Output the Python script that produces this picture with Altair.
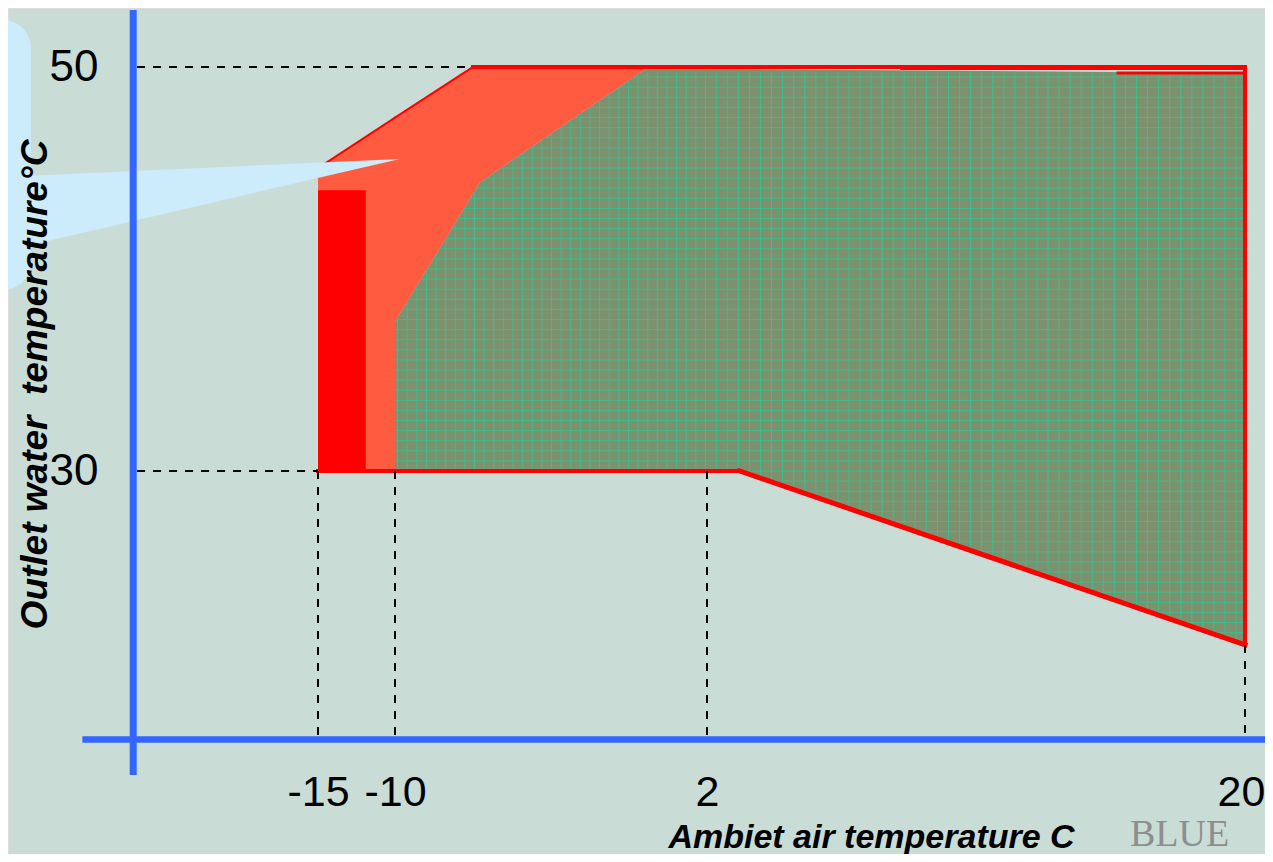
import altair as alt
import pandas as pd
import numpy as np

BG = "#C9DDD6"
BLUE = "#3366FF"
RED = "#FF0000"
TOMATO = "#FF5B40"
GREEN = "#7E916F"
GRIDC = "#3BBE8C"
BUBBLE = "#CCEBFB"

# tick labels
x_ticks = [-15, -10, 2, 20]
y_ticks = [30, 50]

# green operating envelope (x, lower, upper)
green_x = [-10, -6.73, -0.31, 3.1, 20]
green_lo = [30, 30, 30, 30, 21.39]
green_hi = [37.4, 44.3, 49.95, 49.9, 49.7]

# tomato (extended) region visible above the green area
tom_x = [-15, -10.001, -10, -7, -6.73, -0.31]
tom_lo = [30, 30, 37.4, 43.73, 44.3, 49.95]
tom_hi = [45.0, 47.49, 47.49, 50, 50, 50]

# bright red block
blk_x, blk_x2, blk_y, blk_y2 = [-15], [-11.9], [30], [43.9]

# red outline segments
seg_x = [-15, 3.1, 20, -7, -15, -10, 8.5, 15.75]
seg_x2 = [3.1, 20, 20, 20, -10, -7, 20, 20]
seg_y = [30, 30, 21.39, 50, 45.0, 47.49, 49.9, 49.7]
seg_y2 = [30, 21.39, 50, 50, 47.49, 50, 49.9, 49.7]
seg_w = [4, 5, 4, 4, 2, 2, 2, 3]

# dashed guide lines
d_x = [-26.75, -26.75, -15, -10, 2, 20]
d_x2 = [-7, -15, -15, -10, 2, 20]
d_y = [50, 30, 30, 30, 30, 21.39]
d_y2 = [50, 30, 16.71, 16.71, 16.71, 16.71]

# blue axis lines
ax_x = [-27.0, -30.3]
ax_x2 = [-27.0, 21.5]
ax_y = [52.82, 16.71]
ax_y2 = [14.95, 16.71]
ax_w = [7, 6.5]

# grid texture inside the green area
grid_vx = list(np.round(np.arange(-9.9, 20.01, 0.37), 3))
grid_hy = list(np.arange(21.5, 49.9, 0.5))

xs = alt.Scale(domain=[-15, -10, 2, 20], range=[310, 387, 699, 1237])
ys = alt.Scale(domain=[30, 50], range=[463, 59])

TF = "Liberation Sans"
xax = alt.Axis(values=x_ticks, title="Ambiet air temperature C", orient="bottom", offset=-62,
               domain=False, ticks=False, grid=False, labelPadding=0, labelBaseline="middle",
               labelFont=TF, labelFontSize=43, labelColor="black", labelOverlap=False,
               labelFlush=False, labelExpr="'' + datum.value",
               labelOffset={"condition": {"test": "datum.value == 20", "value": -4}, "value": 0},
               titleX=863, titleY=45, titleAlign="center", titleBaseline="middle", titleAngle=0,
               titleFont=TF, titleFontSize=34, titleFontStyle="italic", titleFontWeight="bold",
               titleColor="black", zindex=3)
yax = alt.Axis(values=y_ticks, title="Outlet water\u00a0 temperature°C", orient="left", offset=-90,
               domain=False, ticks=False, grid=False, labelPadding=0, labelBaseline="middle",
               labelAlign="right", labelFont=TF, labelFontSize=44, labelColor="black",
               labelOverlap=False, labelFlush=False, labelExpr="'' + datum.value",
               titleX=-63, titleY=376, titleAlign="center", titleBaseline="middle", titleAngle=270,
               titleFont=TF, titleFontSize=37, titleFontStyle="italic", titleFontWeight="bold",
               titleColor="black", zindex=3)


def X(f="x"):
    return alt.X(f + ":Q", scale=xs, axis=xax)


def Y(f="y"):
    return alt.Y(f + ":Q", scale=ys, axis=yax)


green_df = pd.DataFrame({"x": green_x, "y": green_lo, "y2": green_hi})
tom_df = pd.DataFrame({"x": tom_x, "y": tom_lo, "y2": tom_hi})
mask_lo_df = pd.DataFrame({"x": [-10, 3.1, 20], "y": [30, 30, 21.39], "y2": [21.0, 21.0, 21.0]})
mask_hi_df = pd.DataFrame({"x": [-10, -7], "y": [47.49, 50], "y2": [51.5, 51.5]})
vgrid_df = pd.DataFrame({"x": grid_vx, "y": 21.39, "y2": 49.75})
hgrid_df = pd.DataFrame({"y": grid_hy, "x": -10, "x2": 20})
blk_df = pd.DataFrame({"x": blk_x, "x2": blk_x2, "y": blk_y, "y2": blk_y2})
seg_df = pd.DataFrame({"x": seg_x, "x2": seg_x2, "y": seg_y, "y2": seg_y2, "w": seg_w})
dash_df = pd.DataFrame({"x": d_x, "x2": d_x2, "y": d_y, "y2": d_y2})
axl_df = pd.DataFrame({"x": ax_x, "x2": ax_x2, "y": ax_y, "y2": ax_y2, "w": ax_w})
bub_df = pd.DataFrame({"x": [-45.0], "x2": [-33.64], "y": [38.96], "y2": [52.33]})
ptr_df = pd.DataFrame({"x": [-34.03, -9.81], "y": [41.13, 45.45], "y2": [44.61, 45.45]})
wm_df = pd.DataFrame({"x": [16.15], "y": [11.45], "t": ["BLUE"]})


def area(df, color):
    return alt.Chart(df).mark_area(fill=color, orient="vertical").encode(
        x=X(), y=Y(), y2="y2:Q")


green = area(green_df, GREEN)
vgrid = alt.Chart(vgrid_df).mark_rule(color=GRIDC, strokeWidth=1).encode(x=X(), y=Y(), y2="y2:Q")
hgrid = alt.Chart(hgrid_df).mark_rule(color=GRIDC, strokeWidth=1).encode(x=X(), x2="x2:Q", y=Y())
mask_lo = area(mask_lo_df, BG)
mask_hi = area(mask_hi_df, BG)
tomato = area(tom_df, TOMATO)
block = alt.Chart(blk_df).mark_rect(color=RED).encode(x=X(), x2="x2:Q", y=Y(), y2="y2:Q")
segs = alt.Chart(seg_df).mark_rule(color=RED, strokeCap="square").encode(
    x=X(), x2="x2:Q", y=Y(), y2="y2:Q", strokeWidth=alt.StrokeWidth("w:Q", scale=None))
dashes = alt.Chart(dash_df).mark_rule(color="black", strokeWidth=2, strokeDash=[8, 8]).encode(
    x=X(), x2="x2:Q", y=Y(), y2="y2:Q")
bubble = alt.Chart(bub_df).mark_rect(color=BUBBLE, cornerRadius=28).encode(
    x=X(), x2="x2:Q", y=Y(), y2="y2:Q")
pointer = area(ptr_df, BUBBLE)
axlines = alt.Chart(axl_df).mark_rule(color=BLUE).encode(
    x=X(), x2="x2:Q", y=Y(), y2="y2:Q", strokeWidth=alt.StrokeWidth("w:Q", scale=None))
wm = alt.Chart(wm_df).mark_text(font="Liberation Serif", fontSize=38, color="#8E8E8E",
                                align="left", baseline="alphabetic").encode(x=X(), y=Y(), text="t:N")

chart = alt.layer(green, vgrid, hgrid, mask_lo, mask_hi, tomato, block, segs, dashes,
                  bubble, pointer, axlines, wm).properties(
    width=1257, height=846, padding=0,
    autosize=alt.AutoSizeParams(type="none"),
).configure_view(stroke=None).configure(background=BG)

chart.save("out.html", embed_options={"renderer": "svg", "actions": False})
